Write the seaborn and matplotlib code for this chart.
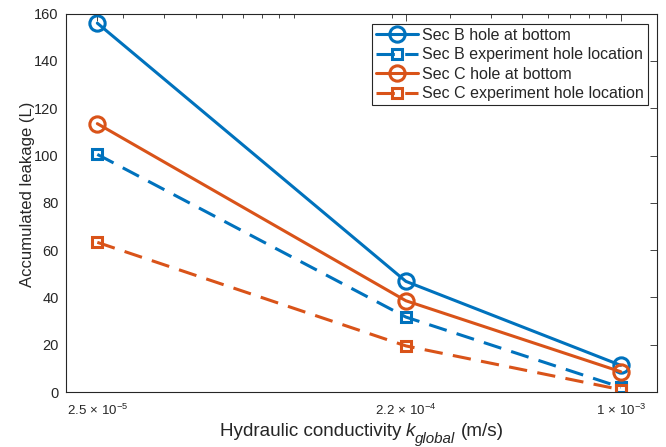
import numpy as np
import pandas as pd
import matplotlib
matplotlib.use("Agg")
import matplotlib.pyplot as plt
from matplotlib.ticker import FixedLocator, LogLocator, NullFormatter
import seaborn as sns

# Hydraulic conductivity values (m/s)
k_global = [2.5e-5, 2.2e-4, 1e-3]
k_labels = [r"$2.5\,\times\,10^{-5}$", r"$2.2\,\times\,10^{-4}$", r"$1\,\times\,10^{-3}$"]

# Accumulated leakage (L)
sec_b_bottom = [156, 46.8, 11.3]
sec_b_experiment = [100.5, 31.7, 2]
sec_c_bottom = [113.5, 38.6, 8.6]
sec_c_experiment = [63.3, 19.5, 1]

series_names = [
    "Sec B hole at bottom",
    "Sec B experiment hole location",
    "Sec C hole at bottom",
    "Sec C experiment hole location",
]

sns.set_style("white")
plt.rcParams["font.family"] = ["Liberation Sans", "DejaVu Sans"]
plt.rcParams["mathtext.fontset"] = "custom"
plt.rcParams["mathtext.rm"] = "Liberation Sans"
plt.rcParams["mathtext.it"] = "Liberation Sans:italic"

blue = "#0072BD"
orange = "#D95319"
axcol = "#262626"

W, H = 666, 447
fig = plt.figure(figsize=(W / 100, H / 100), dpi=100)
ax = fig.add_axes([0.0986, 0.123, 0.8883, 0.8464])

dash = (0, (6, 3.4))
styles = [
    (sec_b_bottom, blue, "-", "o", 11),
    (sec_b_experiment, blue, dash, "s", 7.5),
    (sec_c_bottom, orange, "-", "o", 11),
    (sec_c_experiment, orange, dash, "s", 7.5),
]

for name, (vals, col, ls, mk, ms) in zip(series_names, styles):
    df = pd.DataFrame({"k": k_global, "leak": vals})
    sns.lineplot(data=df, x="k", y="leak", ax=ax, color=col, linestyle=ls,
                 linewidth=2.2, marker=mk, markersize=ms,
                 markerfacecolor="none", markeredgecolor=col,
                 markeredgewidth=2.2, label=name)

ax.set_xscale("log")
ax.set_xlim(2e-5, 1.294e-3)
ax.set_ylim(0, 160)
ax.set_yticks(np.arange(0, 161, 20))

ax.xaxis.set_major_locator(FixedLocator(k_global))
ax.set_xticklabels(k_labels)
ax.xaxis.set_minor_locator(LogLocator(base=10, subs=np.arange(1, 10)))
ax.xaxis.set_minor_formatter(NullFormatter())

ax.tick_params(axis="both", which="both", direction="in", top=True, right=True,
               colors=axcol, labelsize=10.5, width=0.6)
ax.tick_params(axis="x", which="major", labelsize=9.5, pad=8)
ax.tick_params(axis="both", which="major", length=5)
ax.tick_params(axis="x", which="minor", length=3)
ax.tick_params(axis="y", which="major", pad=5)
for sp in ax.spines.values():
    sp.set_color(axcol)
    sp.set_linewidth(0.8)

ax.set_xlabel("")
ax.set_ylabel("Accumulated leakage (L)", fontsize=12, color=axcol)
ax.yaxis.set_label_coords(-0.0525, 0.523)

leg = ax.legend(loc="upper right", bbox_to_anchor=(0.9835, 0.973), fontsize=11.5,
                frameon=True, fancybox=False, framealpha=1, edgecolor=axcol,
                handlelength=2.6, handletextpad=0.25, borderpad=0.25,
                labelspacing=0.28, borderaxespad=0.0)
leg.get_frame().set_linewidth(0.8)

# x-axis label assembled from pieces so the subscript stays readable
renderer = fig.canvas.get_renderer()
base_y = (H - 436.5) / H
fs = 13.6
pieces = [
    ("Hydraulic conductivity", "normal", fs, 0, 0),
    ("k", "italic", fs, 0, 4.5),
    ("global", "italic", fs * 0.8, -6.5, 0),
    ("(m/s)", "normal", fs, 0, 5),
]
texts = []
for s, st, size, dy, gap in pieces:
    t = fig.text(0, base_y + dy / H, s, fontsize=size, style=st, color=axcol,
                 ha="left", va="baseline")
    texts.append((t, gap))
widths = [t.get_window_extent(renderer).width for t, _ in texts]
total = sum(widths) + sum(g for _, g in texts)
x = 361.5 - total / 2
for (t, gap), w in zip(texts, widths):
    x += gap
    t.set_x(x / W)
    x += w

fig.savefig("out.png", dpi=100)
